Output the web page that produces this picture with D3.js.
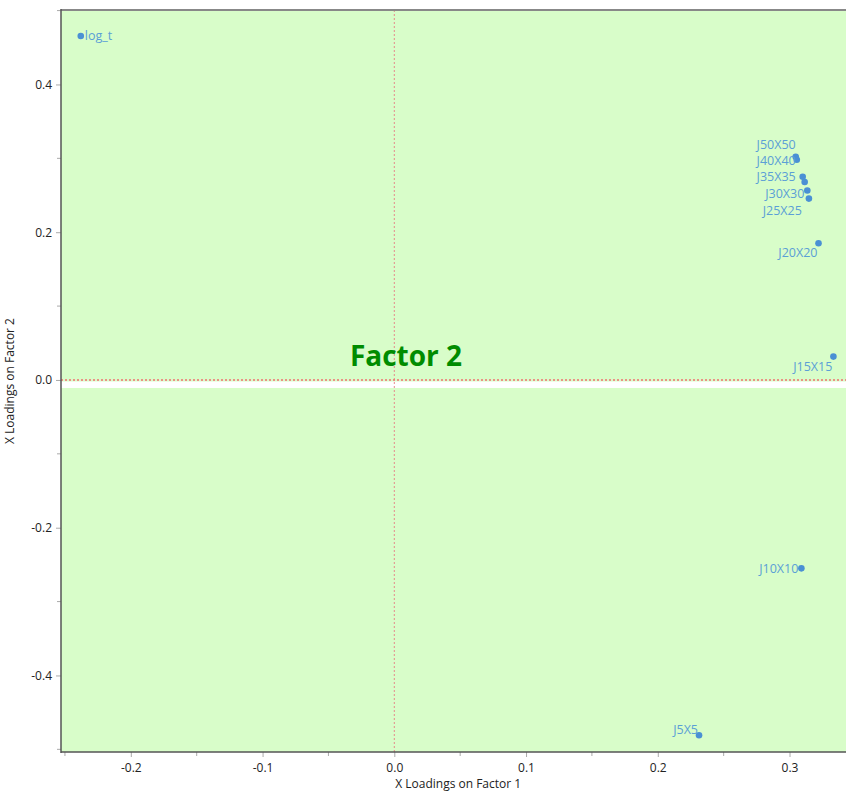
<!DOCTYPE html>
<html><head><meta charset="utf-8">
<script src="https://cdn.jsdelivr.net/npm/d3@7"></script>
<style>body{margin:0;background:#fff;}svg{display:block;font-family:"Open Sans","Noto Sans",sans-serif;}</style>
</head><body>
<svg id="c" width="846" height="794"></svg>
<script>
const names = ["log_t","J50X50","J45X45","J40X40","J35X35","J30X30","J25X25","J20X20","J15X15","J10X10","J5X5"];
const factor1 = [-0.238,0.3047,0.3115,0.3055,0.3100,0.3135,0.3147,0.3220,0.3333,0.3090,0.2313];
const factor2 = [0.4657,0.3020,0.2680,0.2980,0.2750,0.2565,0.2455,0.1850,0.0316,-0.2550,-0.4810];
const xTicks = [-0.2,-0.1,0.0,0.1,0.2,0.3];
const yTicks = [-0.4,-0.2,0.0,0.2,0.4];
const title = "Factor 2";

const svg = d3.select("#c");
const L=61, R=855.4, T=10, B=752;
const x = d3.scaleLinear().domain([-0.253,0.35]).range([L,R]);
const y = d3.scaleLinear().domain([-0.5036,0.5008]).range([B,T]);
const fmt = d => d.toFixed(1);

svg.append("rect").attr("x",L).attr("y",T).attr("width",R-L).attr("height",B-T).attr("fill","#d8fdc9");
svg.append("rect").attr("x",L).attr("y",y(0)+1.5).attr("width",R-L).attr("height",6.5).attr("fill","#ffffff");

// zero lines
svg.append("line").attr("x1",x(0)).attr("x2",x(0)).attr("y1",T).attr("y2",B)
  .attr("stroke","#e58a8a").attr("stroke-width",1).attr("stroke-dasharray","2,2");
svg.append("line").attr("x1",L).attr("x2",R).attr("y1",y(0)).attr("y2",y(0))
  .attr("stroke","#f07070").attr("stroke-width",1.5).attr("stroke-dasharray","2,2");

// axes
const xAxis = d3.axisBottom(x).tickValues(xTicks).tickFormat(fmt).tickSize(5).tickPadding(6);
const gx = svg.append("g").attr("transform",`translate(0,${B})`).call(xAxis);
const xMinor = d3.range(-0.25,0.351,0.05).filter(v=>!xTicks.some(t=>Math.abs(t-v)<1e-6));
gx.selectAll(".minor").data(xMinor).enter().append("line").attr("class","minor")
  .attr("x1",d=>x(d)).attr("x2",d=>x(d)).attr("y1",0).attr("y2",4).attr("stroke","#aaa");
const yAxis = d3.axisLeft(y).tickValues(yTicks).tickFormat(fmt).tickSize(5).tickPadding(4);
const gy = svg.append("g").attr("transform",`translate(${L},0)`).call(yAxis);
const yMinor = [-0.5,-0.3,-0.1,0.1,0.3,0.5];
gy.selectAll(".minor").data(yMinor).enter().append("line").attr("class","minor")
  .attr("x1",-4).attr("x2",0).attr("y1",d=>y(d)).attr("y2",d=>y(d)).attr("stroke","#aaa");
[gx,gy].forEach(g=>{
  g.select(".domain").remove();
  g.selectAll(".tick line").attr("stroke","#aaa");
  g.selectAll(".tick text").attr("fill","#222").attr("font-size",12).attr("font-family","'Open Sans',sans-serif");
});

// frame
svg.append("line").attr("x1",L).attr("x2",846).attr("y1",T).attr("y2",T).attr("stroke","#888").attr("stroke-width",2);
svg.append("line").attr("x1",L).attr("x2",L).attr("y1",T-1).attr("y2",B+1).attr("stroke","#555").attr("stroke-width",1.5);
svg.append("line").attr("x1",L).attr("x2",846).attr("y1",B).attr("y2",B).attr("stroke","#555").attr("stroke-width",1.5);

// axis titles
svg.append("text").attr("x",(L+R)/2).attr("y",788).attr("text-anchor","middle")
  .attr("font-size",12).attr("fill","#222").text("X Loadings on Factor 1");
svg.append("text").attr("transform",`translate(14,${(T+B)/2}) rotate(-90)`).attr("text-anchor","middle")
  .attr("font-size",12).attr("fill","#222").text("X Loadings on Factor 2");

// title
svg.append("text").attr("x",406).attr("y",366).attr("text-anchor","middle")
  .attr("font-size",28).attr("font-weight",700).attr("fill","#008c00").text(title);

// points
const pts = names.map((n,i)=>({n, v1:factor1[i], v2:factor2[i]}));
svg.append("g").selectAll("circle").data(pts).enter().append("circle")
  .attr("cx",d=>x(d.v1)).attr("cy",d=>y(d.v2)).attr("r",3.3).attr("fill","#4a90d4");

// label placement (dx, dy, anchor) relative to point
const place = {
  "log_t":[4,0,"start"], "J50X50":[0,-12,"end"], "J40X40":[-1,1,"end"], "J35X35":[-7,0,"end"],
  "J30X30":[-3,3,"end"], "J25X25":[-7,12,"end"], "J20X20":[-1,9,"end"], "J15X15":[-1,10,"end"],
  "J10X10":[-3,0,"end"], "J5X5":[-1,-6,"end"]
};
svg.append("g").selectAll("text").data(pts.filter(d=>place[d.n])).enter().append("text")
  .attr("x",d=>x(d.v1)+place[d.n][0]).attr("y",d=>y(d.v2)+place[d.n][1])
  .attr("dy","0.35em").attr("text-anchor",d=>place[d.n][2])
  .attr("font-size",12.5).attr("fill","#5b9fd6").text(d=>d.n);
</script>
</body></html>
